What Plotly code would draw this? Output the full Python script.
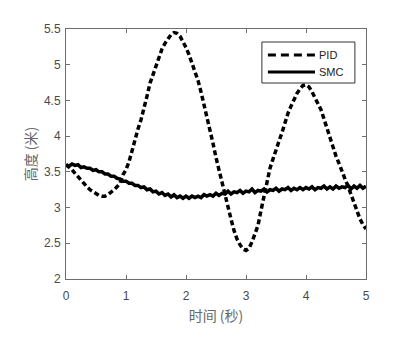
import numpy as np
import plotly.graph_objects as go

time_s = np.round(np.linspace(0, 5, 101), 2)

pid_height = [
    3.60, 3.57, 3.53, 3.48, 3.43, 3.38, 3.33, 3.29, 3.25, 3.22,
    3.19, 3.17, 3.16, 3.16, 3.18, 3.21, 3.25, 3.29, 3.34, 3.46,
    3.53, 3.64, 3.80, 3.95, 4.10, 4.23, 4.38, 4.56, 4.74, 4.86,
    4.98, 5.10, 5.22, 5.30, 5.37, 5.42, 5.45, 5.44, 5.40, 5.33,
    5.24, 5.14, 5.03, 4.90, 4.78, 4.62, 4.45, 4.24, 4.07, 3.90,
    3.70, 3.52, 3.38, 3.18, 2.98, 2.84, 2.68, 2.56, 2.48, 2.42,
    2.40, 2.43, 2.52, 2.62, 2.75, 2.96, 3.16, 3.36, 3.55, 3.68,
    3.82, 3.93, 4.05, 4.20, 4.32, 4.42, 4.52, 4.60, 4.66, 4.71,
    4.72, 4.69, 4.62, 4.54, 4.46, 4.37, 4.24, 4.10, 3.96, 3.84,
    3.72, 3.62, 3.50, 3.40, 3.30, 3.18, 3.05, 2.93, 2.84, 2.76,
    2.70,
]

smc_height = [
    3.60, 3.58, 3.61, 3.59, 3.60, 3.56, 3.57, 3.55, 3.55, 3.52,
    3.53, 3.50, 3.50, 3.47, 3.47, 3.44, 3.44, 3.41, 3.40, 3.37,
    3.37, 3.34, 3.34, 3.31, 3.31, 3.28, 3.29, 3.25, 3.26, 3.22,
    3.23, 3.19, 3.21, 3.17, 3.19, 3.15, 3.18, 3.14, 3.16, 3.13,
    3.16, 3.13, 3.16, 3.14, 3.16, 3.14, 3.18, 3.16, 3.18, 3.16,
    3.20, 3.17, 3.20, 3.19, 3.23, 3.19, 3.22, 3.21, 3.24, 3.20,
    3.23, 3.22, 3.26, 3.21, 3.24, 3.23, 3.26, 3.22, 3.25, 3.24,
    3.27, 3.23, 3.26, 3.25, 3.28, 3.24, 3.27, 3.25, 3.28, 3.25,
    3.28, 3.26, 3.29, 3.25, 3.28, 3.27, 3.30, 3.26, 3.29, 3.26,
    3.30, 3.27, 3.29, 3.28, 3.31, 3.26, 3.30, 3.27, 3.31, 3.27,
    3.30,
]

x_ticks = [0, 1, 2, 3, 4, 5]
y_ticks = [2, 2.5, 3, 3.5, 4, 4.5, 5, 5.5]
y_tick_text = ["2", "2.5", "3", "3.5", "4", "4.5", "5", "5.5"]
legend_names = ["PID", "SMC"]
legend_dash = ["8px,5px", "solid"]

fig = go.Figure()
fig.add_trace(go.Scatter(
    x=time_s, y=pid_height, mode="lines", name=legend_names[0],
    line=dict(color="black", width=3.5, dash="5px,3px"),
))
fig.add_trace(go.Scatter(
    x=time_s, y=smc_height, mode="lines", name=legend_names[1],
    line=dict(color="black", width=3.5),
))

axis_common = dict(
    showgrid=False, zeroline=False, showline=True, linecolor="#6e6e6e",
    linewidth=1, mirror="ticks", ticks="inside", ticklen=4,
    tickcolor="#6e6e6e",
    tickfont=dict(family="Liberation Sans, Arial", size=12, color="#4a4a4a"),
)

# manual legend box (MATLAB style)
fig.add_shape(type="rect", xref="paper", yref="paper",
              x0=0.653, x1=0.963, y0=0.784, y1=0.948,
              line=dict(color="#333333", width=1), fillcolor="white", layer="above")
legend_y = [0.896, 0.828]
for name, dash, ly in zip(legend_names, legend_dash, legend_y):
    fig.add_shape(type="line", xref="paper", yref="paper",
                  x0=0.673, x1=0.83, y0=ly, y1=ly,
                  line=dict(color="black", width=3, dash=dash), layer="above")
    fig.add_annotation(xref="paper", yref="paper", x=0.835, y=ly, text=name,
                       showarrow=False, xanchor="left", yanchor="middle",
                       font=dict(family="Liberation Sans, Arial", size=11, color="#222222"))

fig.update_layout(
    width=400, height=353,
    margin=dict(l=66, r=34, t=29, b=74),
    paper_bgcolor="white", plot_bgcolor="white",
    showlegend=False,
    xaxis=dict(
        range=[0, 5], tickvals=x_ticks, ticklabelstandoff=6,
        title=dict(text="时间 (秒)", font=dict(family="Noto Sans CJK SC", size=14, color="#666666"), standoff=8),
        **axis_common,
    ),
    yaxis=dict(
        range=[2, 5.5], tickvals=y_ticks, ticktext=y_tick_text, ticklabelstandoff=2,
        title=dict(text="高度 (米)", font=dict(family="Noto Sans CJK SC", size=14, color="#666666"), standoff=4),
        **axis_common,
    ),
)

fig.write_html("out.html")
